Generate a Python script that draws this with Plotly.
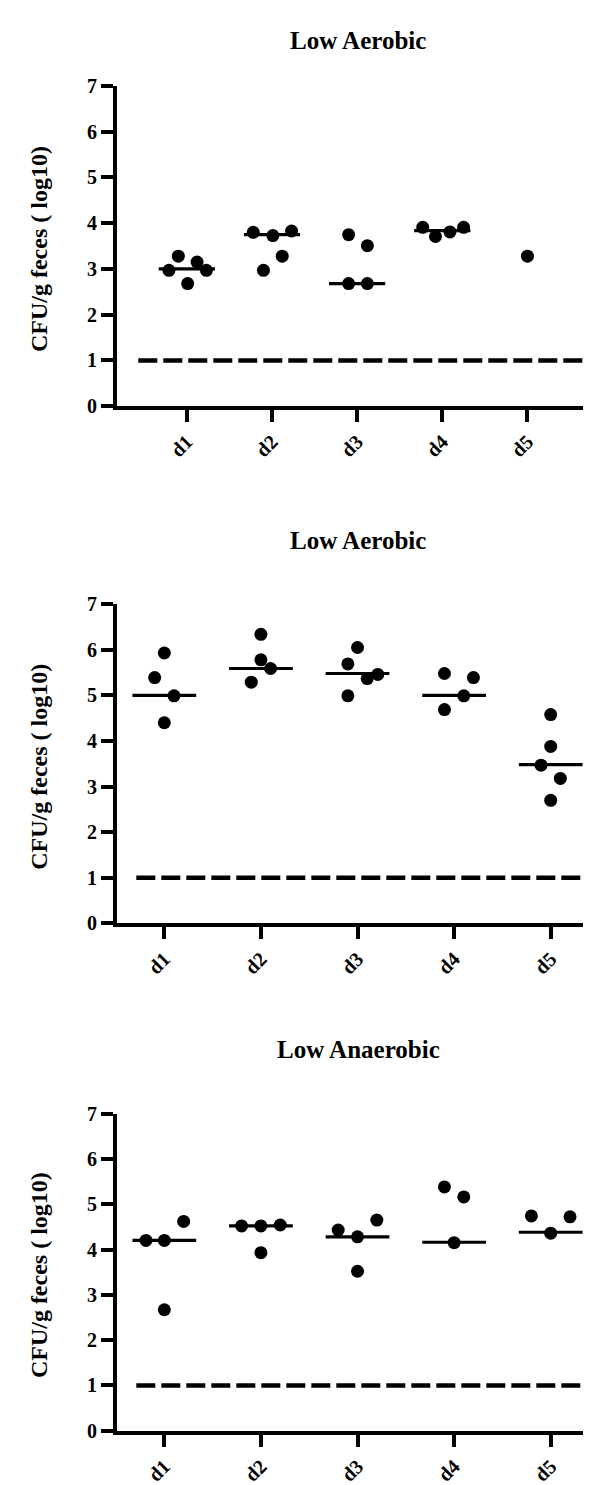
import plotly.graph_objects as go

# ---------------- data ----------------
days = ["d1", "d2", "d3", "d4", "d5"]
titles = ["Low Aerobic", "Low Aerobic", "Low Anaerobic"]
y_title = "CFU/g feces ( log10)"
y_ticks = [0, 1, 2, 3, 4, 5, 6, 7]
detection_limit = 1

# Panel 1 (top, Low Aerobic)
p1_day = [0, 0, 0, 0, 0, 1, 1, 1, 1, 1, 2, 2, 2, 2, 3, 3, 3, 3, 4]
p1_val = [2.97, 3.28, 3.15, 2.97, 2.68, 3.80, 3.73, 3.83, 2.97, 3.28,
          3.75, 3.51, 2.68, 2.68, 3.91, 3.71, 3.81, 3.91, 3.28]
p1_jit = [-0.21, -0.10, 0.12, 0.23, 0.01, -0.22, 0.01, 0.23, -0.10, 0.12,
          -0.10, 0.12, -0.10, 0.12, -0.23, -0.08, 0.09, 0.25, 0.0]
p1_med = [3.0, 3.75, 2.68, 3.84, None]

# Panel 2 (middle, Low Aerobic)
p2_day = [0, 0, 0, 0, 1, 1, 1, 1, 2, 2, 2, 2, 2, 3, 3, 3, 3, 4, 4, 4, 4, 4]
p2_val = [5.93, 5.39, 4.99, 4.40, 6.34, 5.78, 5.59, 5.29,
          6.05, 5.69, 5.37, 5.46, 4.99, 5.48, 5.39, 4.99, 4.69,
          4.58, 3.88, 3.47, 3.18, 2.70]
p2_jit = [0.0, -0.10, 0.10, 0.0, 0.0, 0.0, 0.10, -0.10,
          0.0, -0.10, 0.10, 0.21, -0.10, -0.10, 0.20, 0.10, -0.10,
          0.0, 0.0, -0.10, 0.10, 0.0]
p2_med = [5.0, 5.59, 5.48, 5.0, 3.48]

# Panel 3 (bottom, Low Anaerobic)
p3_day = [0, 0, 0, 0, 1, 1, 1, 1, 2, 2, 2, 2, 3, 3, 3, 4, 4, 4]
p3_val = [4.20, 4.20, 4.62, 2.67, 4.52, 4.52, 4.54, 3.93,
          4.43, 4.28, 4.65, 3.52, 5.38, 5.16, 4.15, 4.74, 4.36, 4.72]
p3_jit = [-0.19, 0.0, 0.20, 0.0, -0.20, 0.0, 0.20, 0.0,
          -0.20, 0.0, 0.20, 0.0, -0.10, 0.10, 0.0, -0.20, 0.0, 0.20]
p3_med = [4.20, 4.52, 4.28, 4.16, 4.38]

panels = [
    (p1_day, p1_val, p1_jit, p1_med),
    (p2_day, p2_val, p2_jit, p2_med),
    (p3_day, p3_val, p3_jit, p3_med),
]

# ---------------- layout geometry ----------------
W, H = 591, 1485
FONT = "Liberation Serif"
x_ranges = [[-0.82, 4.84], [-0.49, 4.5], [-0.49, 4.5]]
dash_spans = [[-0.57, 4.69], [-0.29, 4.37], [-0.29, 4.37]]
plot_tops = [68, 594, 1111]
plot_bottoms = [393, 918, 1433]
title_y = [22, 529, 1046]
x_left = 109

fig = go.Figure()
half = 0.33

for i, (dday, dval, djit, dmed) in enumerate(panels):
    xa = "x" if i == 0 else f"x{i+1}"
    ya = "y" if i == 0 else f"y{i+1}"
    # limit of detection dashed line
    fig.add_trace(go.Scatter(
        x=dash_spans[i], y=[detection_limit, detection_limit], mode="lines",
        line=dict(color="black", width=4.5, dash="19px,6px"),
        xaxis=xa, yaxis=ya, showlegend=False, hoverinfo="skip"))
    # median lines
    mx, my = [], []
    for k, m in enumerate(dmed):
        if m is None:
            continue
        mx += [k - half, k + half, None]
        my += [m, m, None]
    fig.add_trace(go.Scatter(
        x=mx, y=my, mode="lines", line=dict(color="black", width=3.2),
        xaxis=xa, yaxis=ya, showlegend=False, hoverinfo="skip"))
    # points
    fig.add_trace(go.Scatter(
        x=[d + j for d, j in zip(dday, djit)], y=dval, mode="markers",
        marker=dict(color="black", size=13, line=dict(width=0)),
        xaxis=xa, yaxis=ya, showlegend=False, cliponaxis=False))

    top = 1 - plot_tops[i] / H
    bot = 1 - plot_bottoms[i] / H
    axis_common = dict(showgrid=False, zeroline=False, showline=True,
                       linecolor="black", linewidth=4, ticks="outside",
                       ticklen=12, tickwidth=4, tickcolor="black",
                       tickfont=dict(family=FONT, size=20, color="black", weight="bold"))
    fig.update_layout(**{
        ("xaxis" if i == 0 else f"xaxis{i+1}"): dict(
            domain=[x_left / W, 1], range=x_ranges[i],
            tickvals=list(range(len(days))), ticktext=days, tickangle=-45,
            anchor=ya, **axis_common),
        ("yaxis" if i == 0 else f"yaxis{i+1}"): dict(
            domain=[bot, top], range=[0, 7], tickvals=y_ticks,
            anchor=xa, **axis_common),
    })
    # panel title
    fig.add_annotation(
        text=titles[i], xref="paper", yref="paper",
        x=(x_left + W) / 2 / W, y=1 - title_y[i] / H,
        showarrow=False, xanchor="center", yanchor="middle",
        font=dict(family=FONT, size=25, color="black", weight="bold"))
    # y axis title
    fig.add_annotation(
        text=y_title, xref="paper", yref="paper", textangle=-90,
        x=31 / W, y=1 - ((plot_tops[i] + plot_bottoms[i]) / 2 + 3) / H,
        showarrow=False, xanchor="center", yanchor="middle",
        font=dict(family=FONT, size=24, color="black", weight="bold"))

fig.update_layout(
    width=W, height=H, margin=dict(l=0, r=0, t=0, b=0),
    paper_bgcolor="white", plot_bgcolor="white", showlegend=False)

fig.write_html("out.html")
